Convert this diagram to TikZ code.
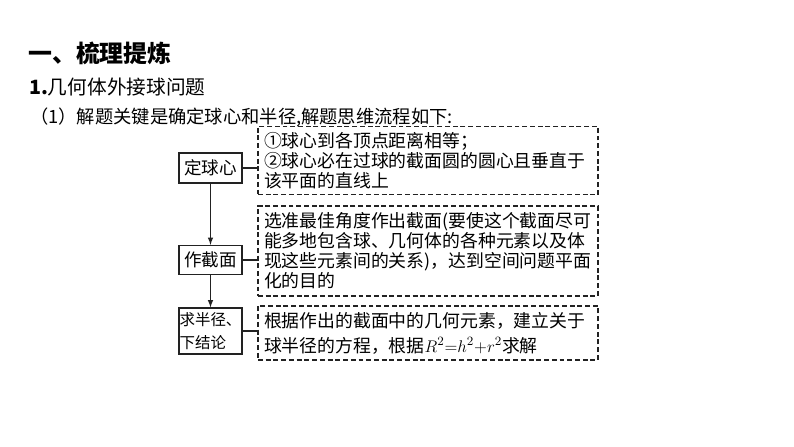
\documentclass[tikz,border=0pt]{standalone}
\usepackage{fontspec}
\setmainfont{Noto Sans CJK SC}
\usepackage{xcolor}
\usepackage{tikz}
\definecolor{linecolor}{HTML}{222222}
\tikzset{
  stepbox/.style={draw=linecolor, line width=0.9pt, rectangle, minimum width=1.575cm, inner sep=1pt, align=left, font=\fontsize{12.5}{16}\selectfont},
  notebox/.style={draw=linecolor, line width=0.8pt, dash pattern=on 3.5pt off 2pt, rectangle, minimum width=8.5cm, text width=8.2cm, inner sep=0.15cm, align=left},
  headline/.style={anchor=west, inner sep=0pt, text=black},
}
\begin{document}
\begin{tikzpicture}%
\useasboundingbox[fill=white] (0, 0) rectangle (19.85, -11.175);%
\node[headline, font=\fontsize{17}{20}\selectfont\bfseries] (title) at (0.7, -1.325) {一、梳理提炼};%
\node[headline, font=\fontsize{14}{17}\selectfont] (topic) at (0.72, -2.175) {\textbf{1.}几何体外接球问题};%
\node[headline, font=\fontsize{13}{16}\selectfont] (intro) at (0.75, -2.925) {（1）解题关键是确定球心和半径,解题思维流程如下:};%
\node[stepbox, minimum height=0.75cm] (center) at (5.2625, -4.2) {定球心};%
\node[stepbox, minimum height=0.725cm] (section) at (5.2625, -6.5) {作截面};%
\node[stepbox, minimum height=1.15cm, inner sep=0pt, font=\fontsize{11}{16.2}\selectfont] (radius) at (5.2625, -8.275) {求半径、\\下结论};%
\node[notebox, minimum height=1.675cm, font=\fontsize{12.7}{14.2}\selectfont] (centernote) at (10.7, -4.0125) {①球心到各顶点距离相等；\\②球心必在过球的截面圆的圆心且垂直于\\该平面的直线上};%
\node[notebox, minimum height=2.25cm, font=\fontsize{12.7}{14.2}\selectfont] (sectionnote) at (10.7, -6.275) {选准最佳角度作出截面(要使这个截面尽可\\能多地包含球、几何体的各种元素以及体\\现这些元素间的关系)，达到空间问题平面\\化的目的};%
\node[notebox, minimum height=1.3cm, font=\fontsize{12.7}{17.8}\selectfont] (radiusnote) at (10.7, -8.325) {根据作出的截面中的几何元素，建立关于\\球半径的方程，根据$R^2{=}h^2{+}r^2$求解};%
\draw[linecolor, line width=0.8pt, -latex] (center) -- (section);%
\draw[linecolor, line width=0.8pt, -latex] (section) -- (radius);%
\draw[linecolor, line width=0.8pt] (center.east) -- (center.east -| centernote.west);%
\draw[linecolor, line width=0.8pt] (section.east) -- (section.east -| sectionnote.west);%
\draw[linecolor, line width=0.8pt] (radius.east) -- (radius.east -| radiusnote.west);%
\end{tikzpicture}
\end{document}
